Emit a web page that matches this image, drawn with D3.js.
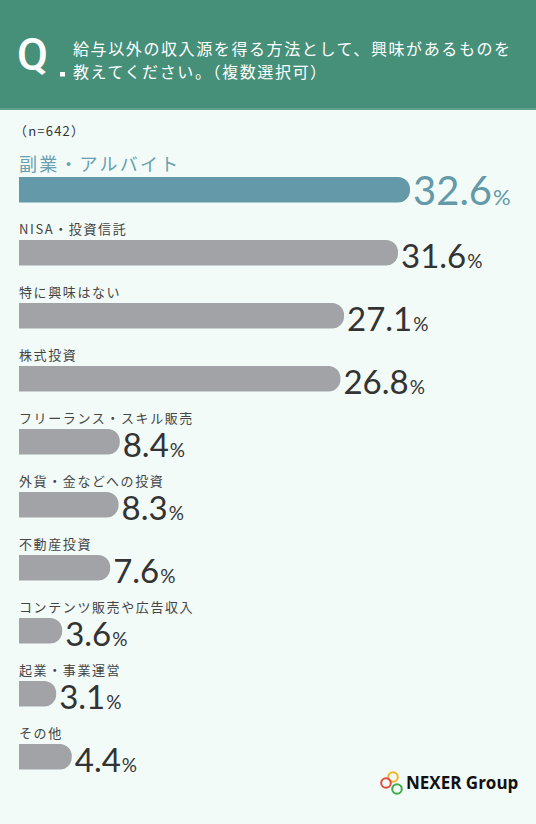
<!DOCTYPE html>
<html>
<head>
<meta charset="utf-8">
<script src="https://cdn.jsdelivr.net/npm/d3@7"></script>
<style>
  html, body { margin: 0; padding: 0; background: #f2fbf8; }
  svg { display: block; }
</style>
</head>
<body>
<div id="chart"></div>
<script>
// data
var categories = ["副業・アルバイト", "NISA・投資信託", "特に興味はない", "株式投資",
  "フリーランス・スキル販売", "外貨・金などへの投資", "不動産投資",
  "コンテンツ販売や広告収入", "起業・事業運営", "その他"]
var values = [32.6, 31.6, 27.1, 26.8, 8.4, 8.3, 7.6, 3.6, 3.1, 4.4]
var titleLines = ["給与以外の収入源を得る方法として、興味があるものを", "教えてください。（複数選択可）"]
var sampleNote = "（n=642）"

var width = 536, height = 824
var jp = "'Noto Sans CJK JP', 'Noto Sans', sans-serif"
var num = "Lato, 'Open Sans', sans-serif"

var svg = d3.select("#chart")
  .append("svg")
    .attr("width", width)
    .attr("height", height)

svg.append("rect")
  .attr("width", width)
  .attr("height", height)
  .attr("fill", "#f2fbf8")

// header band
svg.append("rect")
  .attr("width", width)
  .attr("height", 110)
  .attr("fill", "#468f79")
svg.append("rect")
  .attr("y", 108)
  .attr("width", width)
  .attr("height", 2)
  .attr("fill", "#5fa28c")

svg.append("text")
  .attr("x", 17)
  .attr("y", 70)
  .attr("fill", "#fff")
  .attr("font-family", "Roboto, sans-serif")
  .attr("font-weight", 500)
  .attr("font-size", 45)
  .text("Q")
svg.append("rect")
  .attr("x", 60)
  .attr("y", 72)
  .attr("width", 5)
  .attr("height", 4.5)
  .attr("fill", "#fff")

svg.selectAll(".title")
  .data(titleLines)
  .enter().append("text")
    .attr("class", "title")
    .attr("x", 73)
    .attr("y", (d, i) => 55 + i * 23)
    .attr("fill", "#fff")
    .attr("font-family", jp)
    .attr("font-size", 16)
    .attr("letter-spacing", 1.6)
    .text(d => d)

svg.append("text")
  .attr("x", 14)
  .attr("y", 136)
  .attr("fill", "#333")
  .attr("font-family", jp)
  .attr("font-size", 13)
  .attr("letter-spacing", 1.2)
  .text(sampleNote)

// scales
var x0 = 19
var barH = 25.5
var x = d3.scaleLinear()
  .domain([0, 32.6])
  .range([0, 391])
var y = d3.scalePoint()
  .domain(categories)
  .range([177, 744])

function barPath(w) {
  var r = Math.min(12, w / 2)
  return "M0,0H" + (w - r) +
    "A" + r + "," + r + " 0 0 1 " + w + "," + r +
    "V" + (barH - r) +
    "A" + r + "," + r + " 0 0 1 " + (w - r) + "," + barH +
    "H0Z"
}

var rows = svg.selectAll(".row")
  .data(categories.map((c, i) => ({cat: c, value: values[i], i: i})))
  .enter().append("g")
    .attr("class", "row")
    .attr("transform", d => "translate(" + x0 + "," + y(d.cat) + ")")

rows.append("path")
  .attr("d", d => barPath(x(d.value)))
  .attr("fill", d => d.i === 0 ? "#6399a8" : "#a1a3a6")

rows.append("text")
  .attr("x", 0)
  .attr("y", -6.5)
  .attr("fill", d => d.i === 0 ? "#6a9fae" : "#444")
  .attr("font-family", jp)
  .attr("font-size", d => d.i === 0 ? 18 : 13)
  .attr("letter-spacing", d => d.i === 0 ? 2.2 : 1.6)
  .text(d => d.cat)

var vt = rows.append("text")
  .attr("x", d => x(d.value) + 3)
  .attr("y", barH + 2.5)
  .attr("fill", d => d.i === 0 ? "#6399a8" : "#333")
  .attr("font-family", num)
vt.append("tspan")
  .attr("font-size", d => d.i === 0 ? 40 : 33)
  .text(d => d.value.toFixed(1))
vt.append("tspan")
  .attr("font-size", d => d.i === 0 ? 22 : 19)
  .attr("dx", 1)
  .text("%")

// logo
var logo = svg.append("g")
var rings = [
  {cx: 393, cy: 777, c: "#f2b51c"},
  {cx: 386, cy: 783, c: "#e5483d"},
  {cx: 397, cy: 789, c: "#3daa4a"}
]
logo.selectAll("circle")
  .data(rings)
  .enter().append("circle")
    .attr("cx", d => d.cx)
    .attr("cy", d => d.cy)
    .attr("r", 4.8)
    .attr("fill", "none")
    .attr("stroke", d => d.c)
    .attr("stroke-width", 2)
logo.append("text")
  .attr("x", 406)
  .attr("y", 789)
  .attr("fill", "#111")
  .attr("font-family", "'Open Sans', Lato, sans-serif")
  .attr("font-weight", 700)
  .attr("font-size", 17)
  .text("NEXER Group")
</script>
</body>
</html>
